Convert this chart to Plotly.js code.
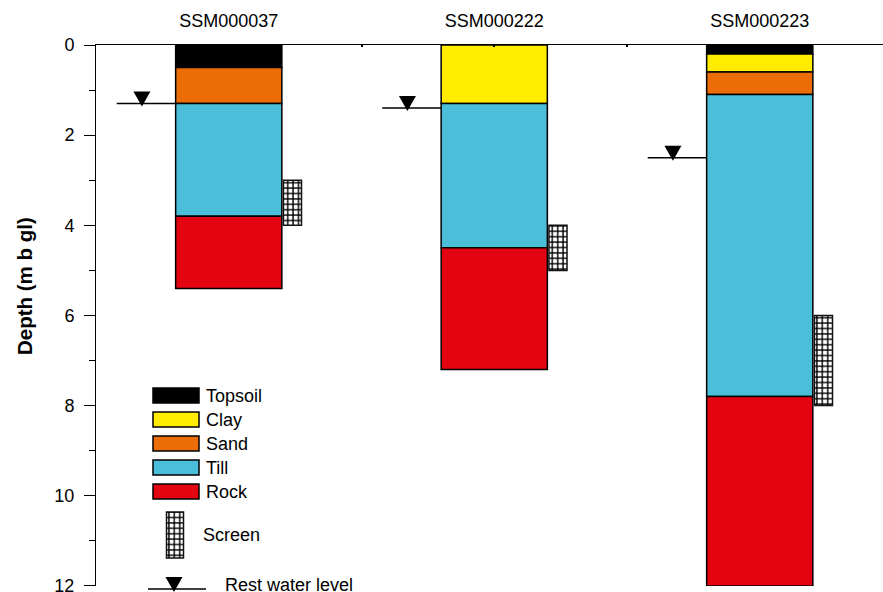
<!DOCTYPE html>
<html><head><meta charset="utf-8">
<script src="https://cdn.plot.ly/plotly-3.0.1.min.js"></script>
<style>html,body{margin:0;padding:0;background:#fff}#chart{width:883px;height:592px}</style>
</head><body><div id="chart"></div>
<script>
// ---- data ----
const wells = ['SSM000037', 'SSM000222', 'SSM000223'];
const lithologies = ['Topsoil', 'Clay', 'Sand', 'Till', 'Rock'];
const topsoilTop = [0, null, 0],     topsoilBottom = [0.5, null, 0.2];
const clayTop    = [null, 0, 0.2],   clayBottom    = [null, 1.3, 0.6];
const sandTop    = [0.5, null, 0.6], sandBottom    = [1.3, null, 1.1];
const tillTop    = [1.3, 1.3, 1.1],  tillBottom    = [3.8, 4.5, 7.8];
const rockTop    = [3.8, 4.5, 7.8],  rockBottom    = [5.4, 7.2, 12];
const waterLevel = [1.3, 1.4, 2.5];
const screenTop = [3, 4, 6], screenBottom = [4, 5, 8];
const depthTicks = [0, 2, 4, 6, 8, 10, 12];

// ---- styles ----
const colors = {Topsoil:'#000000', Clay:'#FFEC00', Sand:'#EC6D05', Till:'#4BBED9', Rock:'#E30412'};
const layerData = {
  Topsoil:[topsoilTop, topsoilBottom], Clay:[clayTop, clayBottom], Sand:[sandTop, sandBottom],
  Till:[tillTop, tillBottom], Rock:[rockTop, rockBottom]
};
const FONT = 'Liberation Sans, Arial, sans-serif';
const BAR_W = 0.4, SCREEN_OFF = 0.24, SCREEN_W = 0.068;
const WL_X0 = -0.422, WL_X1 = -BAR_W/2, WL_TRI = -0.327;
const L = 96, T = 45, W = 787, H = 541;
const px = x => (x - L) / W, py = y => (T + H - y) / H;
const TRI_PATH = 'M-8.5,12 L8.5,12 L0,-3 Z';
const screenPattern = {shape:'+', fgcolor:'#000', bgcolor:'#fff', size:5.4, solidity:0.45};

const traces = [];
lithologies.forEach(name => {
  const [top, bot] = layerData[name];
  const xs = [], base = [], len = [];
  wells.forEach((w, i) => { if (top[i] !== null) { xs.push(i); base.push(top[i]); len.push(bot[i] - top[i]); } });
  traces.push({type:'bar', name, x:xs, base, y:len, width:xs.map(() => BAR_W),
    marker:{color:colors[name], line:{color:'#000', width:1.5}}, hoverinfo:'name'});
});
traces.push({type:'bar', name:'Screen', x:wells.map((w, i) => i + SCREEN_OFF), base:screenTop,
  y:screenTop.map((t, i) => screenBottom[i] - t), width:wells.map(() => SCREEN_W),
  marker:{color:'#fff', pattern:screenPattern, line:{color:'#111', width:1.5}}});
const wlx = [], wly = [];
wells.forEach((w, i) => { wlx.push(i + WL_X0, i + WL_X1, null); wly.push(waterLevel[i], waterLevel[i], null); });
traces.push({type:'scatter', mode:'lines', name:'Rest water level', x:wlx, y:wly,
  line:{color:'#000', width:1.5}, hoverinfo:'skip'});
// legend screen icon on a pixel-scaled overlay axis
traces.push({type:'bar', xaxis:'x2', yaxis:'y2', x:[175], base:[512], y:[46], width:[17],
  marker:{color:'#fff', pattern:screenPattern, line:{color:'#111', width:1.5}}, hoverinfo:'skip'});

const shapes = [], annotations = [];
wells.forEach((w, i) => shapes.push({type:'path', xref:'x', yref:'y', xsizemode:'pixel', ysizemode:'pixel',
  xanchor:i + WL_TRI, yanchor:waterLevel[i], path:TRI_PATH, fillcolor:'#000', line:{width:0}}));
// custom legend
const rowY = [395.5, 419.5, 443.5, 467.5, 491.5];
lithologies.forEach((name, k) => {
  shapes.push({type:'rect', xref:'paper', yref:'paper', x0:px(153), x1:px(199), y0:py(rowY[k] - 7.5), y1:py(rowY[k] + 7.5),
    fillcolor:colors[name], line:{color:'#000', width:1.5}});
  annotations.push({xref:'paper', yref:'paper', x:px(204), y:py(rowY[k]), text:name, showarrow:false,
    xanchor:'left', yanchor:'middle', font:{size:18, color:'#000', family:FONT}});
});
annotations.push({xref:'paper', yref:'paper', x:px(201), y:py(535), text:'Screen', showarrow:false,
  xanchor:'left', yanchor:'middle', font:{size:18, color:'#000', family:FONT}});
shapes.push({type:'line', xref:'paper', yref:'paper', x0:px(148), x1:px(206), y0:py(589), y1:py(589), line:{color:'#000', width:1.5}});
shapes.push({type:'path', xref:'paper', yref:'paper', xsizemode:'pixel', ysizemode:'pixel', xanchor:px(174), yanchor:py(589),
  path:TRI_PATH, fillcolor:'#000', line:{width:0}});
annotations.push({xref:'paper', yref:'paper', x:px(223), y:py(585), text:'Rest water level', showarrow:false,
  xanchor:'left', yanchor:'middle', font:{size:18, color:'#000', family:FONT}});
annotations.push({xref:'paper', yref:'paper', x:px(24), y:py(286), text:'<b>Depth (m b gl)</b>', showarrow:false,
  textangle:-90, xanchor:'center', yanchor:'middle', font:{size:20.5, color:'#000', family:FONT}});

const layout = {
  width:883, height:592, margin:{l:L, r:0, t:T, b:592 - T - H, pad:0},
  paper_bgcolor:'#fff', plot_bgcolor:'#fff', showlegend:false, barmode:'overlay',
  font:{family:FONT, color:'#000', size:18},
  xaxis:{range:[-0.5, -0.5 + W / 265.5], side:'top', tickmode:'array', tickvals:[0, 1, 2], ticktext:wells,
    ticks:'inside', ticklen:2, tickwidth:2, tickcolor:'#000', showline:true, linecolor:'#000', linewidth:1,
    showgrid:false, zeroline:false, tickfont:{size:18}, ticklabelstandoff:10,
    minor:{tickmode:'array', tickvals:[0.5, 1.5], ticks:'inside', ticklen:2, tickwidth:2, tickcolor:'#000', showgrid:false}},
  yaxis:{range:[12.002, 0], tickmode:'array', tickvals:depthTicks, ticktext:depthTicks.map(String),
    ticks:'outside', ticklen:11, tickwidth:1, tickcolor:'#000', ticklabeloverflow:'allow',
    showline:true, linecolor:'#000', linewidth:1, showgrid:false, zeroline:false, tickfont:{size:18}, ticklabelstandoff:6,
    minor:{tickmode:'array', tickvals:[1, 3, 5, 7, 9, 11], ticks:'outside', ticklen:6, tickwidth:1, tickcolor:'#000', showgrid:false}},
  xaxis2:{overlaying:'x', range:[L, L + W], visible:false},
  yaxis2:{overlaying:'y', range:[T + H, T], visible:false},
  shapes, annotations
};
Plotly.newPlot('chart', traces, layout, {staticPlot:true, displayModeBar:false});
</script></body></html>
